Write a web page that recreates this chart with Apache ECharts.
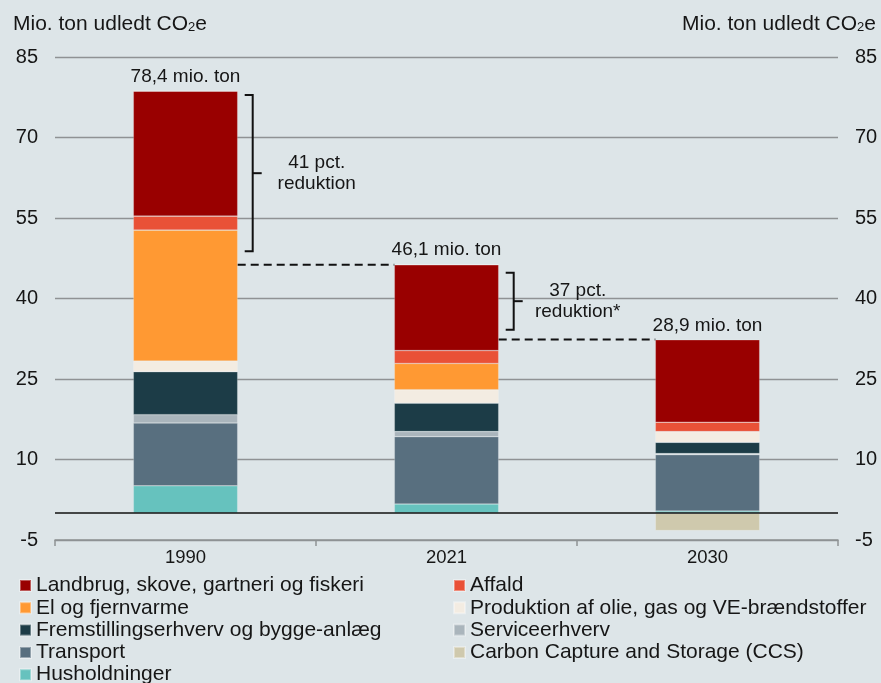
<!DOCTYPE html>
<html>
<head>
<meta charset="utf-8">
<script src="https://cdn.jsdelivr.net/npm/echarts@6/dist/echarts.min.js"></script>
<style>
  html, body { margin: 0; padding: 0; background: #dde5e8; }
  #chart { width: 881px; height: 683px; }
</style>
</head>
<body>
<div id="chart"></div>
<script>
// udledning fordelt på sektorer, mio. ton CO2e
var years = ['1990', '2021', '2030'];
var landbrug = [23.3, 16.0, 15.35];
var affald = [2.6, 2.4, 1.75];
var elFjernvarme = [24.4, 4.9, 0];
var produktion = [2.0, 2.5, 2.0];
var fremstilling = [8.0, 5.3, 2.1];
var service = [1.55, 0.95, 0.2];
var transport = [11.7, 12.55, 10.5];
var husholdninger = [5.1, 1.7, 0.4];
var ccs = [0, 0, -3.25];
var totalLabels = ['78,4 mio. ton', '46,1 mio. ton', '28,9 mio. ton'];

// y-akse
var yMin = -5, yMax = 85, yStep = 15;

// stiplede linjer: [fra kategori, niveau]
var connectors = [[0, 46.3], [1, 32.35]];
// klammer: [kategori, top, bund, tekst]
var brackets = [[0, 77.9, 48.8, '41 pct.\nreduktion'], [1, 44.8, 34.2, '37 pct.\nreduktion*']];

var FONT = '"Liberation Sans", Arial, sans-serif';
var TXT = '#161616';

var names = {
    landbrug: 'Landbrug, skove, gartneri og fiskeri',
    affald: 'Affald',
    el: 'El og fjernvarme',
    prod: 'Produktion af olie, gas og VE-brændstoffer',
    frem: 'Fremstillingserhverv og bygge-anlæg',
    serv: 'Serviceerhverv',
    trans: 'Transport',
    carbon: 'Carbon Capture and Storage (CCS)',
    hus: 'Husholdninger'
};

function bar(name, data, color, extra) {
    var s = {
        name: name,
        type: 'bar',
        stack: 'total',
        barWidth: '40%',
        data: data,
        itemStyle: { color: color, borderColor: 'rgba(255,255,255,0.35)', borderWidth: 0.6 },
        emphasis: { disabled: true }
    };
    for (var k in extra) s[k] = extra[k];
    return s;
}

function renderConnector(params, api) {
    var c = connectors[params.dataIndex];
    var half = api.size([1, 0])[0] * 0.2;
    var p1 = api.coord([c[0], c[1]]);
    var p2 = api.coord([c[0] + 1, c[1]]);
    return {
        type: 'line',
        shape: { x1: p1[0] + half, y1: p1[1], x2: p2[0] - half, y2: p2[1] },
        style: { stroke: '#111', lineWidth: 2, lineDash: [8, 5] }
    };
}

function renderBracket(params, api) {
    var b = brackets[params.dataIndex];
    var half = api.size([1, 0])[0] * 0.2;
    var top = api.coord([b[0], b[1]]);
    var bottom = api.coord([b[0], b[2]]);
    var edge = top[0] + half;
    var x0 = edge + 7, xv = edge + 15, xt = edge + 24;
    var ym = (top[1] + bottom[1]) / 2;
    return {
        type: 'group',
        children: [
            {
                type: 'polyline',
                shape: { points: [[x0, top[1]], [xv, top[1]], [xv, bottom[1]], [x0, bottom[1]]] },
                style: { stroke: '#111', lineWidth: 2, fill: null }
            },
            {
                type: 'line',
                shape: { x1: xv, y1: ym, x2: xt, y2: ym },
                style: { stroke: '#111', lineWidth: 2 }
            },
            {
                type: 'text',
                style: {
                    text: b[3], x: edge + 79, y: ym, align: 'center', verticalAlign: 'middle',
                    fontSize: 19, fontFamily: FONT, fill: TXT, lineHeight: 21
                }
            }
        ]
    };
}

var axisTitle = {
    text: '{a|Mio. ton udledt CO}{s|2}{a|e}',
    textStyle: {
        fontWeight: 'normal',
        rich: {
            a: { fontSize: 21, fontFamily: FONT, fontWeight: 'normal', color: TXT, lineHeight: 24 },
            s: { fontSize: 13, fontFamily: FONT, fontWeight: 'normal', color: TXT, lineHeight: 24, padding: [6, 0, 0, 0] }
        }
    }
};

var legendBase = {
    orient: 'vertical', top: 575, height: 120, padding: 0,
    itemWidth: 11, itemHeight: 11, itemGap: 1.3,
    icon: 'rect', selectedMode: false,
    textStyle: { fontSize: 21, color: TXT, fontFamily: FONT, lineHeight: 21 }
};

var chart = echarts.init(document.getElementById('chart'));
chart.setOption({
    backgroundColor: '#dde5e8',
    animation: false,
    textStyle: { fontFamily: FONT },
    title: [
        Object.assign({ left: 8, top: 7 }, axisTitle),
        Object.assign({ right: 0, top: 7 }, axisTitle)
    ],
    legend: [
        Object.assign({ left: 19, data: [names.landbrug, names.el, names.frem, names.trans, names.hus] }, legendBase),
        Object.assign({ left: 453, data: [names.affald, names.prod, names.serv, names.carbon] }, legendBase)
    ],
    grid: { left: 55, right: 43, top: 57, bottom: 143, containLabel: false },
    xAxis: {
        type: 'category',
        data: years,
        axisLine: { onZero: false, lineStyle: { color: '#8f9294', width: 1.5 } },
        axisTick: { show: true, length: 6, lineStyle: { color: '#8f9294', width: 1.5 } },
        axisLabel: { fontSize: 18.5, color: TXT, margin: 8, fontFamily: FONT }
    },
    yAxis: [
        {
            type: 'value', min: yMin, max: yMax, interval: yStep,
            axisLine: { show: false }, axisTick: { show: false },
            splitLine: { lineStyle: { color: '#8f9294', width: 1.3 } },
            axisLabel: { fontSize: 20, color: TXT, margin: 17, fontFamily: FONT }
        },
        {
            type: 'value', min: yMin, max: yMax, interval: yStep, position: 'right',
            axisLine: { show: false }, axisTick: { show: false }, splitLine: { show: false },
            axisLabel: { fontSize: 20, color: TXT, margin: 17, fontFamily: FONT }
        }
    ],
    series: [
        bar(names.hus, husholdninger, '#66c2be', {
            markLine: {
                silent: true, symbol: 'none', label: { show: false },
                lineStyle: { color: '#111', width: 1.5, type: 'solid' },
                data: [{ yAxis: 0 }]
            }
        }),
        bar(names.trans, transport, '#586f7f'),
        bar(names.serv, service, '#aab5bc'),
        bar(names.frem, fremstilling, '#1c3c47'),
        bar(names.prod, produktion, '#f3ece2'),
        bar(names.el, elFjernvarme, '#ff9933'),
        bar(names.affald, affald, '#e95137'),
        bar(names.landbrug, landbrug, '#990000', {
            label: {
                show: true, position: 'top', distance: 5,
                fontSize: 19, color: TXT, fontFamily: FONT,
                formatter: function (p) { return totalLabels[p.dataIndex]; }
            }
        }),
        bar(names.carbon, ccs, '#cfc9ad'),
        {
            type: 'custom', name: 'forbindelser', silent: true,
            renderItem: renderConnector,
            data: connectors.map(function (c) { return [c[0], c[1]]; }),
            encode: { x: 0, y: 1 }, z: 5
        },
        {
            type: 'custom', name: 'klammer', silent: true,
            renderItem: renderBracket,
            data: brackets.map(function (b) { return [b[0], b[1], b[2]]; }),
            encode: { x: 0, y: [1, 2] }, z: 5
        }
    ]
});
</script>
</body>
</html>
